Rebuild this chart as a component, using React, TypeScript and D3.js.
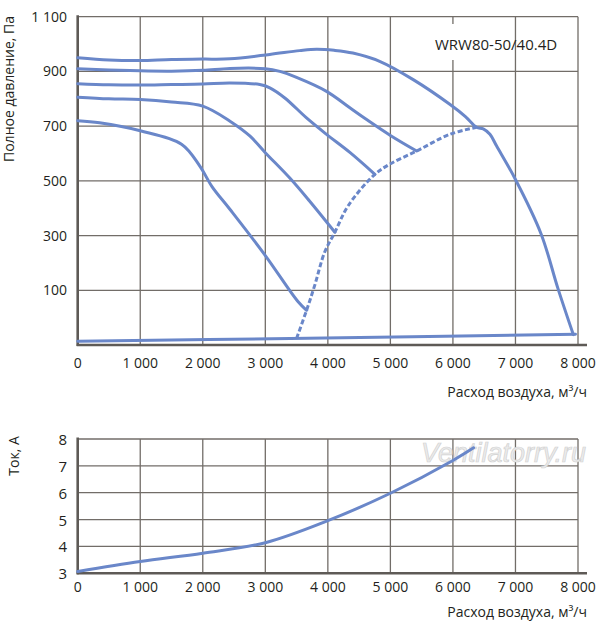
import * as d3 from 'd3';

// Axes
const flowTicks = [0, 1000, 2000, 3000, 4000, 5000, 6000, 7000, 8000];
const pressureTicks = [100, 300, 500, 700, 900, 1100];
const currentTicks = [3, 4, 5, 6, 7, 8];

// Pressure curves [flow m3/h, Pa]
const curve950: [number, number][] = [
  [0, 950], [500, 942], [1000, 940], [1500, 944], [2000, 945], [2435, 946], [3072, 962],
  [3550, 976], [3820, 981], [4100, 977], [4400, 967], [4837, 936], [5365, 870], [5955, 779],
  [6200, 735], [6379, 696], [6485, 690], [6592, 670], [6699, 627], [7000, 505],
  [7410, 306], [7680, 106], [7925, -62],
];
const curve910: [number, number][] = [
  [0, 910], [500, 905], [1000, 902], [1500, 901], [2000, 904], [2435, 911], [3000, 910],
  [3232, 900], [3499, 878], [3979, 827], [4352, 767], [4620, 724], [5000, 666], [5420, 609],
];
const curve855: [number, number][] = [
  [0, 855], [500, 851], [1000, 850], [1500, 852], [2000, 854], [2435, 858], [2912, 852],
  [3072, 840], [3312, 803], [3659, 730], [3979, 670], [4352, 604], [4752, 524],
];
const curve800: [number, number][] = [
  [0, 806], [500, 800], [1000, 797], [1500, 788], [2000, 773], [2435, 718], [2752, 664],
  [3000, 603], [3392, 510], [3700, 428], [4112, 312],
];
const curve715: [number, number][] = [
  [0, 720], [350, 712], [1000, 683], [1660, 634], [1950, 555], [2150, 478], [2430, 397],
  [3000, 227], [3525, 58], [3660, 27],
];
const boundary: [number, number][] = [
  [3500, -76], [3660, 27], [3790, 118], [3950, 240], [4112, 312], [4325, 409], [4752, 524],
  [4990, 561], [5420, 609], [5950, 670], [6379, 696],
];
const systemLine: [number, number][] = [
  [0, -86], [3400, -76], [7960, -61],
];

// Current curve [flow m3/h, A]
const currentCurve: [number, number][] = [
  [0, 3.07], [1000, 3.44], [2000, 3.75], [3000, 4.14], [4000, 4.96], [5000, 5.98],
  [6000, 7.2], [6330, 7.67],
];

const FONT = "'Open Sans', 'Liberation Sans', sans-serif";
const TEXT = '#231f20';
const GRID = '#726d68';
const AXIS = '#5e5a56';
const BLUE = '#6a87c9';

const fmt = (d: number) => d3.format(',')(d).replace(/,/g, ' ');

export default function App() {
  const width = 600;
  const height = 627;

  const x = d3.scaleLinear().domain([0, 8000]).range([77.7, 578]);
  const yP = d3.scaleLinear().domain([-100, 1100]).range([345, 16.7]);
  const yC = d3.scaleLinear().domain([3, 8]).range([573.3, 439]);

  const lineP = d3
    .line<[number, number]>()
    .x((d) => x(d[0]))
    .y((d) => yP(d[1]))
    .curve(d3.curveCatmullRom.alpha(0.5));
  const lineC = d3
    .line<[number, number]>()
    .x((d) => x(d[0]))
    .y((d) => yC(d[1]))
    .curve(d3.curveCatmullRom.alpha(0.5));

  const solidCurves = [curve950, curve910, curve855, curve800, curve715];

  return (
    <svg
      width={width}
      height={height}
      style={{ position: 'absolute', left: 0, top: 0, background: '#fff' }}
      fontFamily={FONT}
    >
      {/* top chart grid */}
      <g>
        {flowTicks.map((t) => (
          <line key={t} x1={x(t)} x2={x(t)} y1={yP(1100)} y2={yP(-100)} stroke={GRID} strokeWidth={1.3} />
        ))}
        {pressureTicks.map((t) => (
          <line key={t} x1={x(0)} x2={x(8000)} y1={yP(t)} y2={yP(t)} stroke={GRID} strokeWidth={1.3} />
        ))}
        <line x1={x(0)} x2={x(0)} y1={yP(1100) - 1.5} y2={yP(-100) + 1} stroke={AXIS} strokeWidth={2.6} />
        <line x1={x(0) - 1} x2={587} y1={yP(-100)} y2={yP(-100)} stroke={AXIS} strokeWidth={2.6} />
        {pressureTicks.map((t) => (
          <text key={t} x={67} y={yP(t) + 5} textAnchor="end" fontSize={14} fill={TEXT}>
            {fmt(t)}
          </text>
        ))}
        {flowTicks.map((t) => (
          <text key={t} x={x(t)} y={368} textAnchor="middle" fontSize={14} fill={TEXT}>
            {fmt(t)}
          </text>
        ))}
        <text transform="translate(14,89) rotate(-90)" textAnchor="middle" fontSize={14} fill={TEXT}>
          Полное давление, Па
        </text>
        <text x={587} y={397} textAnchor="end" fontSize={14} fill={TEXT}>
          Расход воздуха, м³/ч
        </text>
        <rect x={436} y={24} width={40} height={36} fill="#fff" />
        <text x={435} y={50} fontSize={15} fill={TEXT}>
          WRW80-50/40.4D
        </text>
      </g>

      {/* pressure curves */}
      <g fill="none" stroke={BLUE} strokeWidth={3} strokeLinejoin="round" strokeLinecap="round">
        {solidCurves.map((c, i) => (
          <path key={i} d={lineP(c)!} />
        ))}
        <path d={lineP(systemLine)!} />
        <path d={lineP(boundary)!} strokeDasharray="5 2.5" strokeLinecap="butt" />
      </g>

      {/* bottom chart grid */}
      <g>
        {flowTicks.map((t) => (
          <line key={t} x1={x(t)} x2={x(t)} y1={yC(8)} y2={yC(3)} stroke={GRID} strokeWidth={1.3} />
        ))}
        {currentTicks.map((t) => (
          <line key={t} x1={x(0)} x2={x(8000)} y1={yC(t)} y2={yC(t)} stroke={GRID} strokeWidth={1.3} />
        ))}
        <line x1={x(0)} x2={x(0)} y1={yC(8) - 1.5} y2={yC(3) + 1} stroke={AXIS} strokeWidth={2.6} />
        <line x1={x(0) - 1} x2={587} y1={yC(3)} y2={yC(3)} stroke={AXIS} strokeWidth={2.6} />
        {currentTicks.map((t) => (
          <text key={t} x={67} y={yC(t) + 6} textAnchor="end" fontSize={15} fill={TEXT}>
            {t}
          </text>
        ))}
        {flowTicks.map((t) => (
          <text key={t} x={x(t)} y={592} textAnchor="middle" fontSize={14} fill={TEXT}>
            {fmt(t)}
          </text>
        ))}
        <text transform="translate(19,456) rotate(-90)" textAnchor="middle" fontSize={14} fill={TEXT}>
          Ток, А
        </text>
        <text x={587} y={617} textAnchor="end" fontSize={14} fill={TEXT}>
          Расход воздуха, м³/ч
        </text>
        <text
          x={421}
          y={462}
          fontSize={27}
          fontStyle="italic"
          fontFamily="'Liberation Sans', sans-serif"
          fill="#ececec"
          stroke="#d2d2d2"
          strokeWidth={0.7}
        >
          Ventilatorry.ru
        </text>
      </g>

      <path
        d={lineC(currentCurve)!}
        fill="none"
        stroke={BLUE}
        strokeWidth={3}
        strokeLinecap="round"
      />
    </svg>
  );
}
